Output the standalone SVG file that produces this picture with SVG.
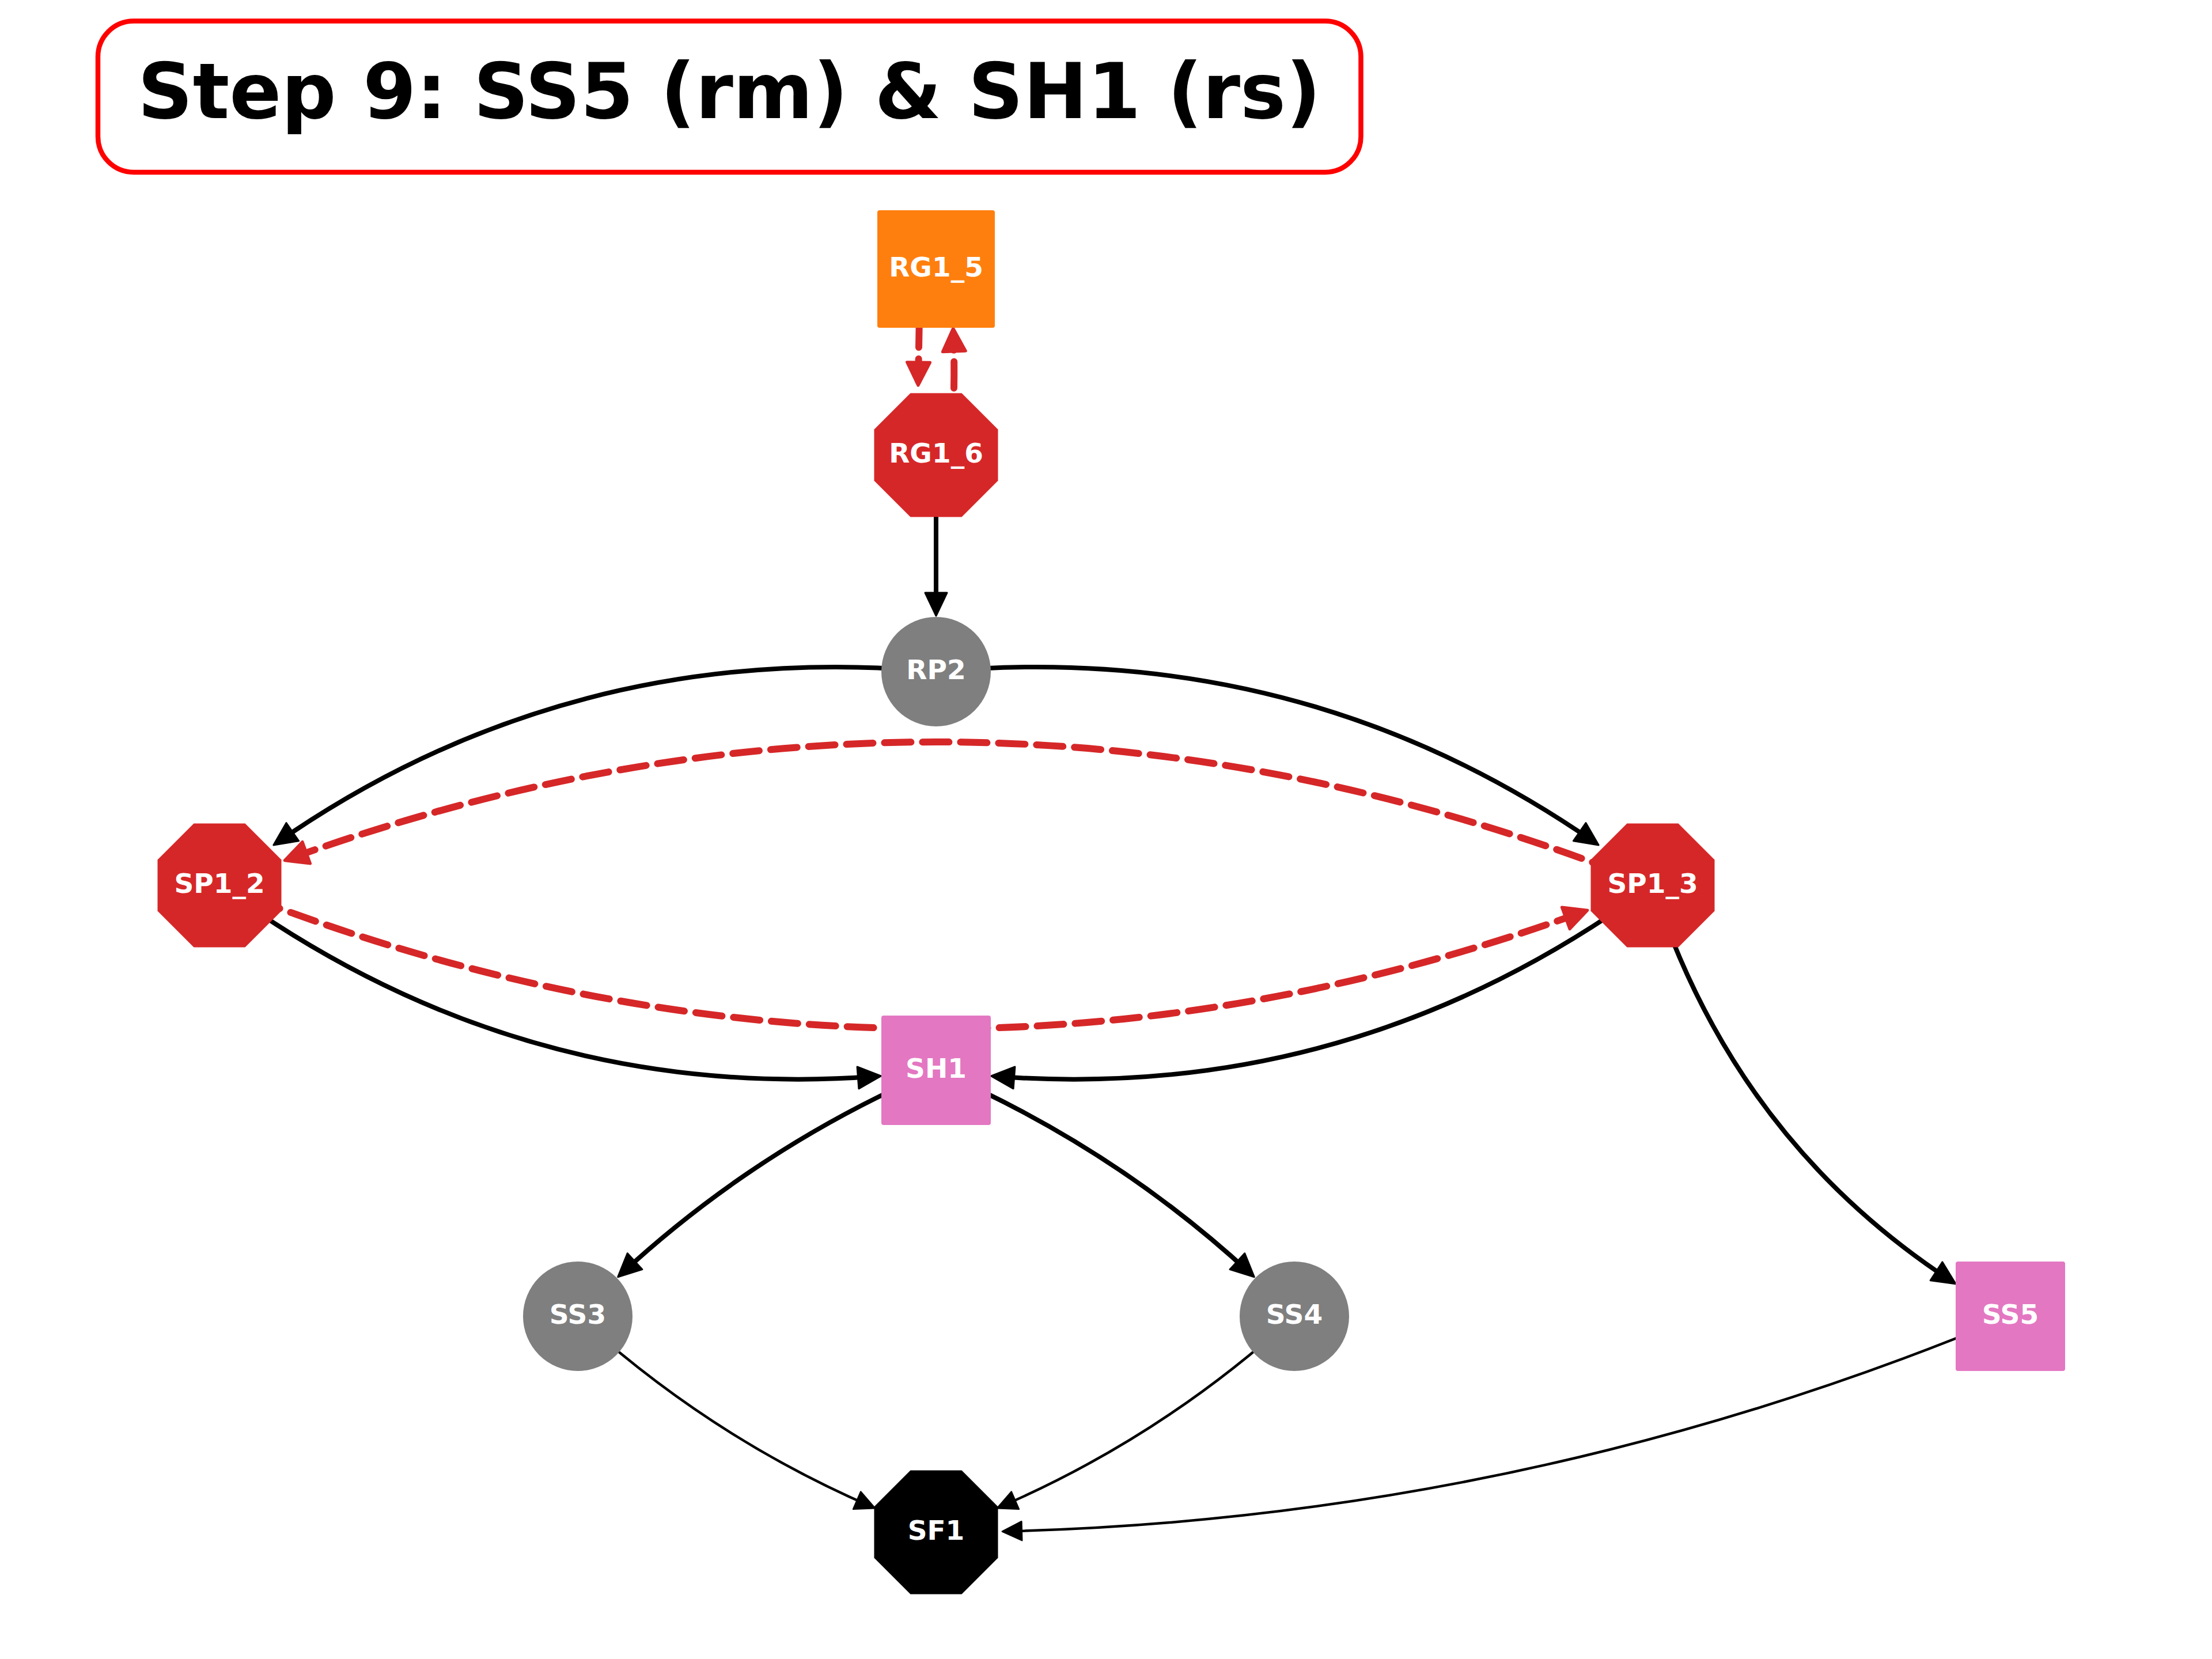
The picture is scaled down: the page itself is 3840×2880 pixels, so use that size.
<svg xmlns="http://www.w3.org/2000/svg" width="3840" height="2880" viewBox="0 0 3840 2880">
<defs>
<style>
.lbl{font-family:"DejaVu Sans","Liberation Sans",sans-serif;font-weight:bold;font-size:47px;fill:#ffffff;text-anchor:middle}
.title{font-family:"DejaVu Sans","Liberation Sans",sans-serif;font-weight:bold;font-size:133px;fill:#000000;text-anchor:middle}
.e{fill:none;stroke:#000000;stroke-width:8}
.et{fill:none;stroke:#000000;stroke-width:4.5}
.ed{fill:none;stroke:#d62728;stroke-width:12;stroke-dasharray:46 20;stroke-linecap:round}
.red{fill:#d62728}
.orange{fill:#ff7f0e}
.gray{fill:#7f7f7f}
.pink{fill:#e377c2}
.black{fill:#000000}
</style>
<marker id="ak" markerUnits="userSpaceOnUse" viewBox="-45 -30 60 60" markerWidth="60" markerHeight="60" refX="0" refY="0" orient="auto">
<path d="M-31,-19 L9,0 L-31,19 Z" fill="#000000" stroke="#000000" stroke-width="3" stroke-linejoin="round"/>
</marker>
<marker id="at" markerUnits="userSpaceOnUse" viewBox="-40 -25 55 50" markerWidth="55" markerHeight="50" refX="0" refY="0" orient="auto">
<path d="M-28,-16.5 L6,0 L-28,16.5 Z" fill="#000000" stroke="#000000" stroke-width="2.5" stroke-linejoin="round"/>
</marker>
<marker id="ar" markerUnits="userSpaceOnUse" viewBox="-45 -30 60 60" markerWidth="60" markerHeight="60" refX="0" refY="0" orient="auto">
<path d="M-32,-20 L8,0 L-32,20 Z" fill="#d62728" stroke="#d62728" stroke-width="5" stroke-linejoin="round"/>
</marker>
</defs>
<rect x="0" y="0" width="3840" height="2880" fill="#ffffff"/>

<g id="title">
<rect x="170" y="36.5" width="2192.5" height="262.5" rx="62" ry="62" fill="#ffffff" stroke="#ff0000" stroke-width="8.5"/>
<text class="title" x="1266" y="205">Step 9: SS5 (rm) &amp; SH1 (rs)</text>
</g>

<g id="edges">
<path id="e-RG1_5-RG1_6" class="ed" d="M1597,491 L1594,661" marker-end="url(#ar)"/>
<path id="e-RG1_6-RG1_5" class="ed" d="M1654,740 Q1658,650 1655,578" marker-end="url(#ar)"/>
<path id="e-RG1_6-RP2" class="e" d="M1625,790 L1625,1060" marker-end="url(#ak)"/>
<path id="e-RP2-SP1_2" class="e" d="M1625,1166 Q992.4,1108.5 482.3,1461.9" marker-end="url(#ak)"/>
<path id="e-RP2-SP1_3" class="e" d="M1625,1166 Q2257.6,1108.5 2767.7,1461.9" marker-end="url(#ak)"/>
<path id="e-SP1_3-SP1_2" class="ed" d="M2869,1537 Q1685.3,1063.2 501.7,1491.1" marker-end="url(#ar)"/>
<path id="e-SP1_2-SP1_3" class="ed" d="M381,1537 Q1564.7,2010.8 2748.3,1583" marker-end="url(#ar)"/>
<path id="e-SP1_2-SH1" class="e" d="M381,1537 Q896,1914.9 1520.4,1868.6" marker-end="url(#ak)"/>
<path id="e-SP1_3-SH1" class="e" d="M2869,1537 Q2354,1914.9 1729.6,1868.6" marker-end="url(#ak)"/>
<path id="e-SH1-SS3" class="e" d="M1625,1858 Q1320.5,1988.3 1079.3,2210.7" marker-end="url(#ak)"/>
<path id="e-SH1-SS4" class="e" d="M1625,1858 Q1929.5,1988.3 2170.7,2210.7" marker-end="url(#ak)"/>
<path id="e-SP1_3-SS5" class="e" d="M2869,1537 Q3011.3,1977.5 3387.5,2223.8" marker-end="url(#ak)"/>
<path id="e-SS3-SF1" class="et" d="M1003,2285 Q1231.9,2494 1513.4,2615.8" marker-end="url(#at)"/>
<path id="e-SS4-SF1" class="et" d="M2247,2285 Q2018.1,2494 1736.6,2615.8" marker-end="url(#at)"/>
<path id="e-SS5-SF1" class="et" d="M3490,2285 Q2650.9,2635.7 1745.8,2658.4" marker-end="url(#at)"/>
</g>

<g id="RG1_5">
<rect class="orange" x="1523" y="365" width="204" height="204" rx="4"/>
<text class="lbl" x="1625" y="480">RG1_5</text>
</g>
<g id="RG1_6">
<polygon class="red" points="1580.5,682.5 1669.5,682.5 1732.5,745.5 1732.5,834.5 1669.5,897.5 1580.5,897.5 1517.5,834.5 1517.5,745.5"/>
<text class="lbl" x="1625" y="803">RG1_6</text>
</g>
<g id="RP2">
<circle class="gray" cx="1625" cy="1166" r="95"/>
<text class="lbl" x="1625" y="1179">RP2</text>
</g>
<g id="SP1_2">
<polygon class="red" points="336.5,1429.5 425.5,1429.5 488.5,1492.5 488.5,1581.5 425.5,1644.5 336.5,1644.5 273.5,1581.5 273.5,1492.5"/>
<text class="lbl" x="381" y="1550">SP1_2</text>
</g>
<g id="SP1_3">
<polygon class="red" points="2824.5,1429.5 2913.5,1429.5 2976.5,1492.5 2976.5,1581.5 2913.5,1644.5 2824.5,1644.5 2761.5,1581.5 2761.5,1492.5"/>
<text class="lbl" x="2869" y="1550">SP1_3</text>
</g>
<g id="SH1">
<rect class="pink" x="1530" y="1763" width="190" height="190" rx="4"/>
<text class="lbl" x="1625" y="1871">SH1</text>
</g>
<g id="SS3">
<circle class="gray" cx="1003" cy="2285" r="95"/>
<text class="lbl" x="1003" y="2298">SS3</text>
</g>
<g id="SS4">
<circle class="gray" cx="2247" cy="2285" r="95"/>
<text class="lbl" x="2247" y="2298">SS4</text>
</g>
<g id="SS5">
<rect class="pink" x="3395" y="2190" width="190" height="190" rx="4"/>
<text class="lbl" x="3490" y="2298">SS5</text>
</g>
<g id="SF1">
<polygon class="black" points="1580.5,2552.5 1669.5,2552.5 1732.5,2615.5 1732.5,2704.5 1669.5,2767.5 1580.5,2767.5 1517.5,2704.5 1517.5,2615.5"/>
<text class="lbl" x="1625" y="2673">SF1</text>
</g>
</svg>
